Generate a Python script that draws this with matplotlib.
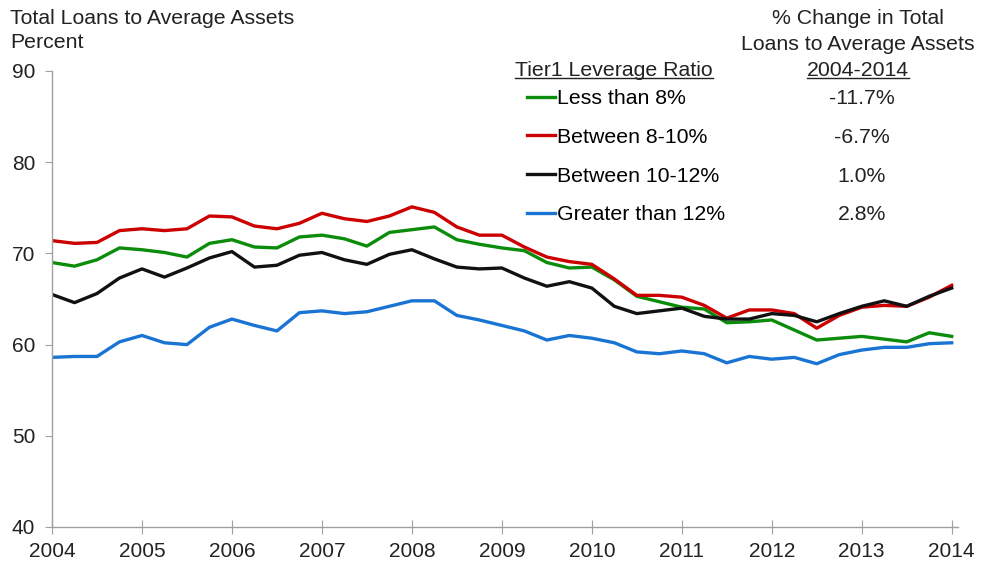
import matplotlib
matplotlib.use('Agg')
import matplotlib.pyplot as plt
from matplotlib.lines import Line2D

plt.rcParams['font.family'] = ['Liberation Sans', 'DejaVu Sans']

# quarterly observations, 2004 Q1 .. 2014 Q1
quarters = [2004 + i / 4 for i in range(41)]

less_than_8 = [69.0, 68.6, 69.3, 70.6, 70.4, 70.1, 69.6, 71.1, 71.5, 70.7,
               70.6, 71.8, 72.0, 71.6, 70.8, 72.3, 72.6, 72.9, 71.5, 71.0,
               70.6, 70.3, 69.0, 68.4, 68.5, 67.1, 65.3, 64.7, 64.1, 63.9,
               62.4, 62.5, 62.7, 61.6, 60.5, 60.7, 60.9, 60.6, 60.3, 61.3,
               60.9]
between_8_10 = [71.4, 71.1, 71.2, 72.5, 72.7, 72.5, 72.7, 74.1, 74.0, 73.0,
                72.7, 73.3, 74.4, 73.8, 73.5, 74.1, 75.1, 74.5, 72.9, 72.0,
                72.0, 70.7, 69.6, 69.1, 68.8, 67.2, 65.4, 65.4, 65.2, 64.3,
                62.9, 63.8, 63.8, 63.4, 61.8, 63.2, 64.1, 64.3, 64.2, 65.2,
                66.5]
between_10_12 = [65.5, 64.6, 65.6, 67.3, 68.3, 67.4, 68.4, 69.5, 70.2, 68.5,
                 68.7, 69.8, 70.1, 69.3, 68.8, 69.9, 70.4, 69.4, 68.5, 68.3,
                 68.4, 67.3, 66.4, 66.9, 66.2, 64.2, 63.4, 63.7, 64.0, 63.1,
                 62.8, 62.8, 63.4, 63.2, 62.5, 63.4, 64.2, 64.8, 64.2, 65.3,
                 66.2]
greater_than_12 = [58.6, 58.7, 58.7, 60.3, 61.0, 60.2, 60.0, 61.9, 62.8, 62.1,
                   61.5, 63.5, 63.7, 63.4, 63.6, 64.2, 64.8, 64.8, 63.2, 62.7,
                   62.1, 61.5, 60.5, 61.0, 60.7, 60.2, 59.2, 59.0, 59.3, 59.0,
                   58.0, 58.7, 58.4, 58.6, 57.9, 58.9, 59.4, 59.7, 59.7, 60.1,
                   60.2]

labels = ['Less than 8%', 'Between 8-10%', 'Between 10-12%', 'Greater than 12%']
changes = ['-11.7%', '-6.7%', '1.0%', '2.8%']
colors = ['#0b8c0b', '#cc0000', '#111111', '#1a74d4']
years = list(range(2004, 2015))

fig = plt.figure(figsize=(9.81, 5.65), dpi=100)
ax = fig.add_axes([52 / 981, 1 - 527 / 565, 906 / 981, 456 / 565])

series = [less_than_8, between_8_10, between_10_12, greater_than_12]
lines = []
for s, c, lab in zip(series, colors, labels):
    ln, = ax.plot(quarters, s, color=c, lw=2.4, label=lab, solid_joinstyle='round')
    lines.append(ln)

ax.set_xlim(2004, 2014.07)
ax.set_ylim(40, 90)
ax.set_yticks(range(40, 91, 10))
ax.set_xticks(years)
for side in ['top', 'right']:
    ax.spines[side].set_visible(False)
for side in ['left', 'bottom']:
    ax.spines[side].set_color('#a0a0a0')
    ax.spines[side].set_linewidth(1.0)
ax.tick_params(axis='y', direction='out', length=5, color='#a0a0a0',
               labelsize=15, labelcolor='#222222', pad=7)
ax.tick_params(axis='x', direction='inout', length=10, color='#a0a0a0',
               labelsize=15, labelcolor='#222222', pad=6)

fs = 15.3
fig.text(10 / 981, 1 - 18 / 565, 'Total Loans to Average Assets', fontsize=fs,
         va='center', ha='left', color='#222222')
fig.text(10 / 981, 1 - 43 / 565, 'Percent', fontsize=fs, va='center',
         ha='left', color='#222222')
fig.text(858 / 981, 1 - 19 / 565, '% Change in Total', fontsize=fs,
         va='center', ha='center', color='#222222')
fig.text(858 / 981, 1 - 44 / 565, 'Loans to Average Assets', fontsize=fs,
         va='center', ha='center', color='#222222')
h1 = fig.text(858 / 981, 1 - 70 / 565, '2004-2014', fontsize=fs,
              va='center', ha='center', color='#222222')
h2 = fig.text(614 / 981, 1 - 70 / 565, 'Tier1 Leverage Ratio', fontsize=fs,
              va='center', ha='center', color='#222222')

leg = ax.legend(handles=lines, loc='upper left',
                bbox_to_anchor=(527 / 981, 1 - 89 / 565),
                bbox_transform=fig.transFigure, frameon=False,
                fontsize=fs, handlelength=1.3, handletextpad=0.12,
                labelspacing=0.93, borderpad=0, borderaxespad=0)

fig.canvas.draw()
renderer = fig.canvas.get_renderer()
inv = fig.transFigure.inverted()

# underline the two headers
for t in (h1, h2):
    bb = t.get_window_extent(renderer)
    (x0, y0), (x1, _) = inv.transform([[bb.x0, bb.y0], [bb.x1, bb.y1]])
    fig.add_artist(Line2D([x0, x1], [y0 + 0.002, y0 + 0.002],
                          transform=fig.transFigure, color='#222222', lw=1.0))

# % change column aligned with legend rows
for txt, val in zip(leg.get_texts(), changes):
    bb = txt.get_window_extent(renderer)
    yc = inv.transform([[0, (bb.y0 + bb.y1) / 2]])[0][1]
    fig.text(862 / 981, yc, val, fontsize=fs, ha='center', va='center',
             color='#222222')

fig.savefig('out.png', dpi=100)
